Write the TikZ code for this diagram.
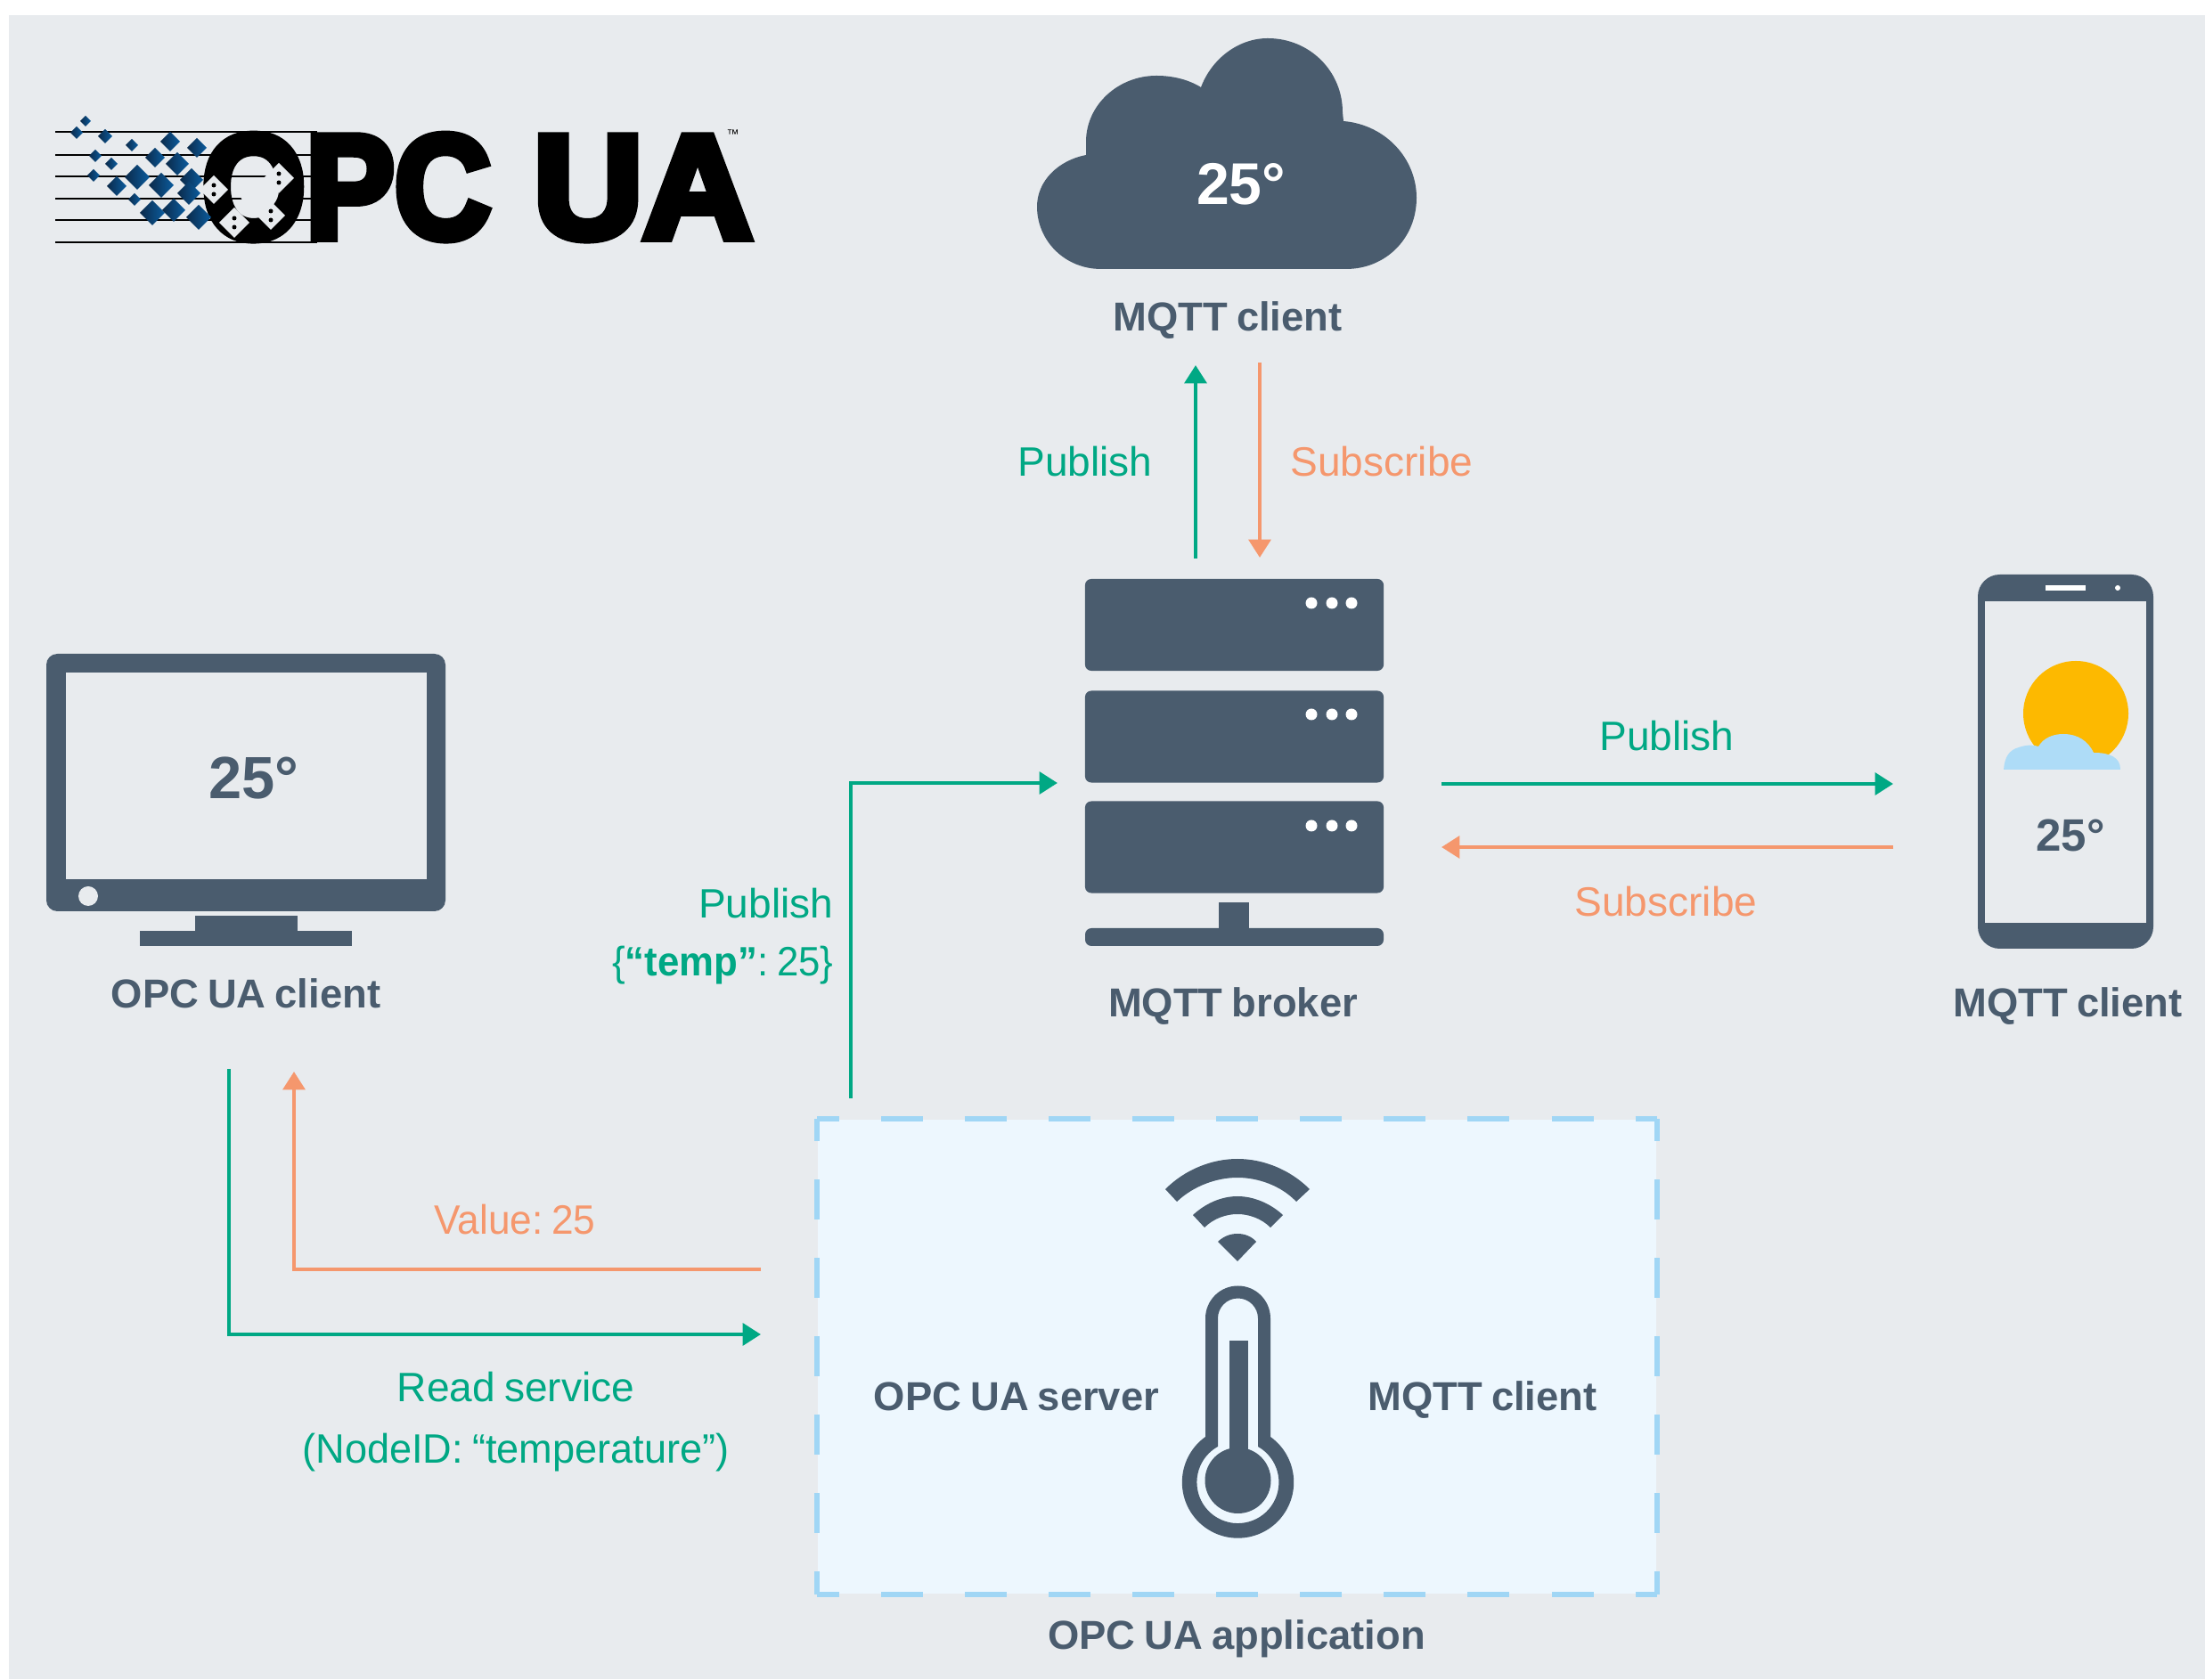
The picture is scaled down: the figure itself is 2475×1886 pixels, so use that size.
\documentclass[tikz,border=0pt]{standalone}
\usepackage{fontspec}
\setmainfont[WordSpace=.8]{Liberation Sans}
\newfontfamily\logofont[BoldFeatures={FakeBold=6}]{Liberation Sans}
\usetikzlibrary{arrows.meta}
\frenchspacing
\definecolor{pagebg}{HTML}{E8EBEE}
\definecolor{slate}{HTML}{4A5C6E}
\definecolor{pubgreen}{HTML}{00A884}
\definecolor{suborange}{HTML}{F5976D}
\definecolor{appfill}{HTML}{EDF7FE}
\definecolor{appdash}{HTML}{A0D6F5}
\definecolor{sunyellow}{HTML}{FDB900}
\definecolor{logoblue}{HTML}{0B5C9E}
\definecolor{logonavy}{HTML}{0B2A4A}
\tikzset{
  publine/.style={draw=pubgreen,line width=1.3pt,-{Triangle[width=7pt,length=5.8pt]}},
  subline/.style={draw=suborange,line width=1.3pt,-{Triangle[width=7pt,length=5.8pt]}},
  publabel/.style={text=pubgreen,anchor=base,inner sep=0pt,yshift=-.015cm,font=\fontsize{13.1}{15}\selectfont},
  sublabel/.style={text=suborange,anchor=base,inner sep=0pt,yshift=-.015cm,font=\fontsize{13.1}{15}\selectfont},
  iconlabel/.style={text=slate,anchor=base,inner sep=0pt,yshift=-.015cm,font=\fontsize{12.9}{15}\selectfont\bfseries},
  logotext/.style={anchor=base west,inner sep=0pt,font=\logofont\bfseries\fontsize{47}{50}\selectfont},
  serverbox/.style={fill=slate,rounded corners=2pt,minimum width=3.35cm,minimum height=1.03cm,inner sep=0pt},
  appbox/.style={fill=appfill,minimum width=9.41cm,minimum height=5.32cm,inner sep=0pt},
  dashh/.style={draw=appdash,line width=1.7pt,dash pattern=on .47cm off .47cm,dash phase=.22cm},
  dashv/.style={draw=appdash,line width=1.7pt,dash pattern=on .45cm off .43cm,dash phase=.2cm},
}
\begin{document}
\begin{tikzpicture}[x=.01cm,y=-.01cm]
\useasboundingbox (0,0) rectangle (2475,1886);
\fill[pagebg] (10,17) rectangle (2475,1885);

% logo
\foreach \liney in {148,174,198,223,247,272}
  \draw[black,line width=.8pt] (62,\liney) -- (356,\liney);
\node[logotext] (logoopc) at (226,267) {\scalebox{.905}[1]{OPC}};
\node[logotext] (logoua) at (598,267) {\scalebox{1.03}[1]{UA}};
\node[anchor=base west,inner sep=0pt,font=\fontsize{4}{5}\selectfont] (logotm) at (815,156) {™};
\fill[pagebg] (291,213) ellipse (22 and 24);
\draw[black,line width=.8pt] (270,198) -- (301,198);
\foreach \dx/\dy/\dr in {96/136/6,86/149/7,118/153/8,148/163/7,191/159/11,221/166/11,107/175/7,125/184/7,174/177/11,199/184/13,105/197/7,154/199/14,131/209/11,181/208/14,215/202/13,212/217/13,151/224/7,171/239/14,195/236/13,223/244/14}
  \shade[left color=logonavy,right color=logoblue] (\dx-\dr,\dy) -- (\dx,\dy-\dr) -- (\dx+\dr,\dy) -- (\dx,\dy+\dr) -- cycle;
\foreach \dx/\dy/\dr in {240/213/16,263/250/17,304/242/16,313/200/17} {
  \fill[pagebg] (\dx-\dr,\dy) -- (\dx,\dy-\dr) -- (\dx+\dr,\dy) -- (\dx,\dy+\dr) -- cycle;
  \fill[black] (\dx,\dy-5) circle (2.5);
  \fill[black] (\dx,\dy+5) circle (2.5);
}

% cloud
\fill[slate] (1236,302) .. controls (1195,302) and (1164,270) .. (1164,232) .. controls (1164,203) and (1188,180) .. (1219,174) -- (1219,159) .. controls (1219,118) and (1255,85) .. (1298,85) .. controls (1318,85) and (1335,90) .. (1348,98) .. controls (1360,66) and (1390,43) .. (1423,43) .. controls (1470,43) and (1507,80) .. (1507,126) -- (1508,136) .. controls (1555,140) and (1590,178) .. (1590,222) .. controls (1590,268) and (1555,302) .. (1511,302) -- cycle;
\node[anchor=base,inner sep=0pt,text=white,font=\fontsize{18.8}{20}\selectfont\bfseries] (cloudtemp) at (1393,230) {25°};
\node[iconlabel] (cloudlabel) at (1378,370) {MQTT client};

% broker
\node[serverbox] (srvA) at (1385.5,701.5) {};
\node[serverbox] (srvB) at (1385.5,827) {};
\node[serverbox] (srvC) at (1385.5,951) {};
\foreach \srvy in {677,802,927}
  \foreach \srvx in {1472,1495,1517}
    \fill[white] (\srvx,\srvy) circle (6.5);
\fill[slate] (1368,1013) rectangle (1402,1048);
\fill[slate,rounded corners=2pt] (1218,1042) rectangle (1553,1062);
\node[iconlabel] (brokerlabel) at (1384,1140) {MQTT broker};

% phone
\fill[slate,rounded corners=7pt] (2220,645) rectangle (2417,1065);
\fill[pagebg] (2228,675) rectangle (2409,1036);
\fill[white] (2296,657) rectangle (2341,663);
\fill[white] (2377,660) circle (3);
\fill[sunyellow] (2330,801) circle (59);
\fill[appdash!85!white] (2249,864) .. controls (2250,850) and (2255,842) .. (2266,839) .. controls (2275,836) and (2282,836) .. (2288,838) .. controls (2294,828) and (2305,824) .. (2316,824) .. controls (2332,824) and (2344,832) .. (2350,845) .. controls (2368,845) and (2380,850) .. (2380,864) -- cycle;
\node[anchor=base,inner sep=0pt,text=slate,font=\fontsize{14.5}{16}\selectfont\bfseries] (phonetemp) at (2324,956) {25°};
\node[iconlabel] (phonelabel) at (2321,1140) {MQTT client};

% monitor
\fill[slate,rounded corners=3.5pt] (52,734) rectangle (500,1023);
\fill[pagebg] (74,755) rectangle (479,987);
\fill[pagebg] (99,1006) circle (11);
\fill[slate] (219,1028) rectangle (334,1048);
\fill[slate] (157,1045) rectangle (395,1062);
\node[anchor=base,inner sep=0pt,text=slate,font=\fontsize{19}{20}\selectfont\bfseries] (montemp) at (285,897) {25°};
\node[iconlabel] (monlabel) at (276,1130) {OPC UA client};

% application
\node[appbox] (app) at (1388.5,1523) {};
\draw[dashh] (app.north west) -- (app.north east);
\draw[dashh] (app.south west) -- (app.south east);
\draw[dashv] (app.north west) -- (app.south west);
\draw[dashv] (app.north east) -- (app.south east);
\fill[slate] (1308,1335) .. controls (1330,1313) and (1360,1301) .. (1389,1301) .. controls (1418,1301) and (1448,1313) .. (1470,1335) -- (1455,1349) .. controls (1438,1331) and (1412,1322) .. (1389,1322) .. controls (1366,1322) and (1340,1331) .. (1321,1349) -- cycle;
\fill[slate] (1339,1364) .. controls (1353,1351) and (1371,1343) .. (1389,1343) .. controls (1407,1343) and (1426,1351) .. (1440,1364) -- (1426,1378) .. controls (1416,1368) and (1402,1363) .. (1389,1363) .. controls (1376,1363) and (1362,1368) .. (1352,1378) -- cycle;
\fill[slate] (1367,1394) .. controls (1373,1388) and (1381,1385) .. (1389,1385) .. controls (1397,1385) and (1405,1388) .. (1410,1394) -- (1389,1416) -- cycle;
\fill[slate,even odd rule] (1353,1613) -- (1353,1480) arc (180:360:36.5) -- (1426,1613) arc (-54.4:234.4:62.7) -- cycle
  (1367,1624) -- (1367,1480) arc (180:360:22.5) -- (1412,1624) arc (-60.6:240.6:46) -- cycle;
\fill[slate] (1380,1505) rectangle (1401,1640);
\fill[slate] (1389.5,1662) circle (37);
\node[iconlabel] (serverlabel) at (1141,1582) {OPC UA server};
\node[iconlabel] (clientlabel) at (1664,1582) {MQTT client};
\node[iconlabel] (applabel) at (1388,1850) {OPC UA application};

% connectors
\coordinate (pubupA) at (1342,627);
\coordinate (pubupB) at (1342,410);
\coordinate (subdnA) at (1414,407);
\coordinate (subdnB) at (1414,626);
\coordinate (pubrtA) at (1618,880);
\coordinate (pubrtB) at (2125,880);
\coordinate (subltA) at (2125,951);
\coordinate (subltB) at (1618,951);
\coordinate (apppubA) at (955,1233);
\coordinate (apppubC) at (955,879);
\coordinate (apppubB) at (1187,879);
\coordinate (readA) at (257,1200);
\coordinate (readC) at (257,1498);
\coordinate (readB) at (854,1498);
\coordinate (valA) at (854,1425);
\coordinate (valC) at (330,1425);
\coordinate (valB) at (330,1203);
\draw[publine] (pubupA) -- (pubupB);
\draw[subline] (subdnA) -- (subdnB);
\draw[publine] (pubrtA) -- (pubrtB);
\draw[subline] (subltA) -- (subltB);
\draw[publine] (apppubA) -- (apppubC) -- (apppubB);
\draw[publine] (readA) -- (readC) -- (readB);
\draw[subline] (valA) -- (valC) -- (valB);

\node[publabel] (publishtop) at (1218,533) {Publish};
\node[sublabel] (subscribetop) at (1551,533) {Subscribe};
\node[publabel] (publishright) at (1871,841) {Publish};
\node[sublabel] (subscriberight) at (1870,1027) {Subscribe};
\node[publabel,anchor=base east] (publishapp) at (936,1029) {Publish};
\node[publabel,anchor=base east] (payload) at (936,1094) {\scalebox{.95}[1]{\{\textbf{“temp”}: 25\}}};
\node[sublabel] (valuelabel) at (578,1384) {\scalebox{.96}[1]{Value: 25}};
\node[publabel] (readlabel) at (579,1572) {Read service};
\node[publabel] (nodeidlabel) at (579,1641) {\scalebox{.98}[1]{(NodeID: “temperature”)}};
\end{tikzpicture}
\end{document}
